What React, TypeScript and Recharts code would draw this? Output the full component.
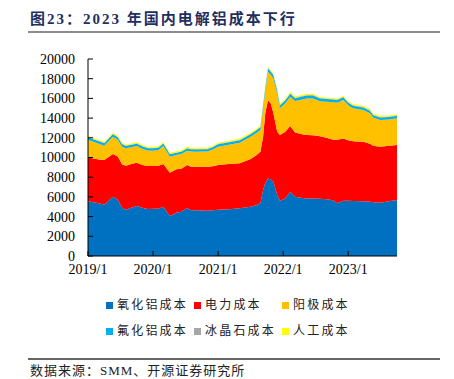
import React from "react";
import { AreaChart, Area, XAxis, YAxis } from "recharts";

// month index from 2019/1
const months = [
  0, 1, 2, 3, 4.6, 5.5, 6.3, 7, 8, 9, 10, 11, 12, 13, 13.9, 15.1, 16.3, 17.2, 18.3, 19, 20, 21, 22, 23,
  24, 26, 28, 30, 31, 31.8, 32.3, 32.7, 33.2, 33.7, 34.2, 34.9, 35.4, 36.4, 37.3, 38.2, 39.5, 40.4,
  41.5, 42.8, 44, 45.2, 46, 47.1, 48, 48.9, 50.8, 52, 52.6, 53.9, 55.5, 57,
];
const alumina = [
  5550, 5450, 5350, 5200, 6020, 5700, 4900, 4700, 4900, 5070, 4900, 4770, 4800, 4800, 5000, 4060, 4400, 4500, 4870, 4650, 4650, 4620, 4600, 4650,
  4700, 4750, 4840, 5000, 5150, 5350, 6700, 7400, 7880, 7800, 7540, 6190, 5620, 5850, 6530, 6020, 5900, 5850,
  5850, 5800, 5750, 5650, 5350, 5620, 5600, 5580, 5560, 5500, 5450, 5400, 5550, 5680,
];
const power = [
  4470, 4450, 4450, 4550, 4330, 4400, 4400, 4470, 4450, 4400, 4350, 4360, 4330, 4350, 4330, 4400, 4400, 4350, 4360, 4420, 4420, 4430, 4450, 4450,
  4550, 4600, 4570, 4850, 5050, 5240, 5410, 7100, 7920, 7700, 6940, 6430, 6660, 6770, 6670, 6530, 6450, 6430,
  6400, 6350, 6250, 6150, 6450, 6320, 6150, 6070, 6040, 5900, 5750, 5700, 5650, 5590,
];
const anode = [
  1750, 1700, 1600, 1450, 1750, 1700, 1800, 1760, 1700, 1690, 1650, 1570, 1560, 1600, 1830, 1620, 1450, 1500, 1460, 1530, 1520, 1570, 1550, 1700,
  1850, 1950, 2090, 2250, 2250, 2200, 2890, 2200, 2910, 2900, 3550, 3890, 2710, 2880, 2970, 3180, 3550, 3720,
  3750, 3550, 3650, 3800, 3750, 3890, 3550, 3340, 3220, 3100, 2850, 2710, 2650, 2710,
];
const fluoride = [
  250, 250, 250, 250, 260, 250, 250, 240, 240, 240, 240, 240, 240, 240, 250, 240, 230, 230, 230, 230, 230, 230, 240, 240,
  250, 250, 260, 270, 280, 290, 300, 320, 330, 320, 310, 300, 290, 300, 300, 290, 290, 290,
  290, 280, 280, 280, 280, 280, 270, 260, 260, 250, 250, 250, 250, 250,
];
const cryolite = [
  40, 40, 40, 40, 40, 40, 40, 40, 40, 40, 40, 40, 40, 40, 40, 40, 40, 40, 40, 40, 40, 40, 40, 40,
  40, 40, 40, 40, 40, 40, 50, 50, 50, 50, 50, 50, 50, 50, 50, 50, 50, 50,
  50, 50, 50, 50, 50, 50, 50, 50, 50, 50, 50, 50, 50, 50,
];
const labor = [
  120, 120, 120, 120, 120, 120, 120, 120, 120, 120, 120, 120, 120, 120, 120, 120, 120, 120, 120, 120, 120, 120, 120, 120,
  120, 120, 120, 120, 120, 120, 120, 120, 120, 120, 120, 120, 120, 120, 120, 120, 120, 120,
  120, 120, 120, 120, 120, 120, 120, 120, 120, 120, 120, 120, 120, 120,
];

const xTicks = [0, 12, 24, 36, 48];
const xTickLabels = ["2019/1", "2020/1", "2021/1", "2022/1", "2023/1"];
const yTicks = [0, 2000, 4000, 6000, 8000, 10000, 12000, 14000, 16000, 18000, 20000];

const series = [
  { key: "alumina", name: "氧化铝成本", color: "#0070C0" },
  { key: "power", name: "电力成本", color: "#FF0000" },
  { key: "anode", name: "阳极成本", color: "#FFC000" },
  { key: "fluoride", name: "氟化铝成本", color: "#00B0F0" },
  { key: "cryolite", name: "冰晶石成本", color: "#A6A6A6" },
  { key: "labor", name: "人工成本", color: "#FFFF00" },
];

const data = months.map((m, i) => ({
  m,
  alumina: alumina[i],
  power: power[i],
  anode: anode[i],
  fluoride: fluoride[i],
  cryolite: cryolite[i],
  labor: labor[i],
}));

const serif = "'Liberation Serif', 'Times New Roman', serif";
const cjk = "'Liberation Serif', 'Noto Sans CJK SC', sans-serif";

export default function App() {
  return (
    <div style={{ position: "absolute", left: 0, top: 0, width: 454, height: 379, background: "#fff", overflow: "hidden" }}>
      <div
        style={{
          position: "absolute", left: 30, top: 9, fontFamily: cjk, fontWeight: 700,
          fontSize: 15, letterSpacing: 2, color: "#1F2F5F", whiteSpace: "nowrap", lineHeight: "20px",
        }}
      >
        图23：2023 年国内电解铝成本下行
      </div>
      <div style={{ position: "absolute", left: 28, top: 31, width: 412, height: 2, background: "#8C8C8C" }} />

      <div style={{ position: "absolute", left: 0, top: 0 }}>
        <AreaChart width={454} height={290} data={data} margin={{ top: 59, right: 57, bottom: 0, left: 28 }}>
          <XAxis
            dataKey="m"
            type="number"
            domain={[0, 57]}
            ticks={xTicks}
            tickFormatter={(v: number) => xTickLabels[xTicks.indexOf(v)] ?? ""}
            height={34}
            tickSize={-5}
            tickMargin={13}
            stroke="#000"
            tick={{ fill: "#000", fontSize: 14, fontFamily: serif }}
            interval={0}
          />
          <YAxis
            type="number"
            domain={[0, 20000]}
            ticks={yTicks}
            width={60}
            tickSize={-5}
            tickMargin={18}
            stroke="#000"
            tick={{ fill: "#000", fontSize: 14, fontFamily: serif }}
            interval={0}
          />
          {series.map((s) => (
            <Area
              key={s.key}
              dataKey={s.key}
              name={s.name}
              stackId="1"
              type="linear"
              stroke="none"
              fill={s.color}
              fillOpacity={1}
              isAnimationActive={false}
            />
          ))}
        </AreaChart>
      </div>

      {series.map((s, i) => {
        const col = i % 3;
        const row = Math.floor(i / 3);
        const left = [106, 194, 282][col];
        const top = [298, 324][row];
        return (
          <div key={s.key} style={{ position: "absolute", left, top, display: "flex", alignItems: "center", whiteSpace: "nowrap" }}>
            <div style={{ width: 7, height: 7, background: s.color, marginRight: 4 }} />
            <span style={{ fontFamily: cjk, fontSize: 12, letterSpacing: 2.2, color: "#222", lineHeight: "14px" }}>{s.name}</span>
          </div>
        );
      })}

      <div style={{ position: "absolute", left: 28, top: 358, width: 412, height: 1.5, background: "#666" }} />
      <div
        style={{
          position: "absolute", left: 30, top: 364, fontFamily: cjk, fontSize: 13,
          letterSpacing: 1, color: "#222", whiteSpace: "nowrap", lineHeight: "14px",
        }}
      >
        数据来源：SMM、开源证券研究所
      </div>
    </div>
  );
}
